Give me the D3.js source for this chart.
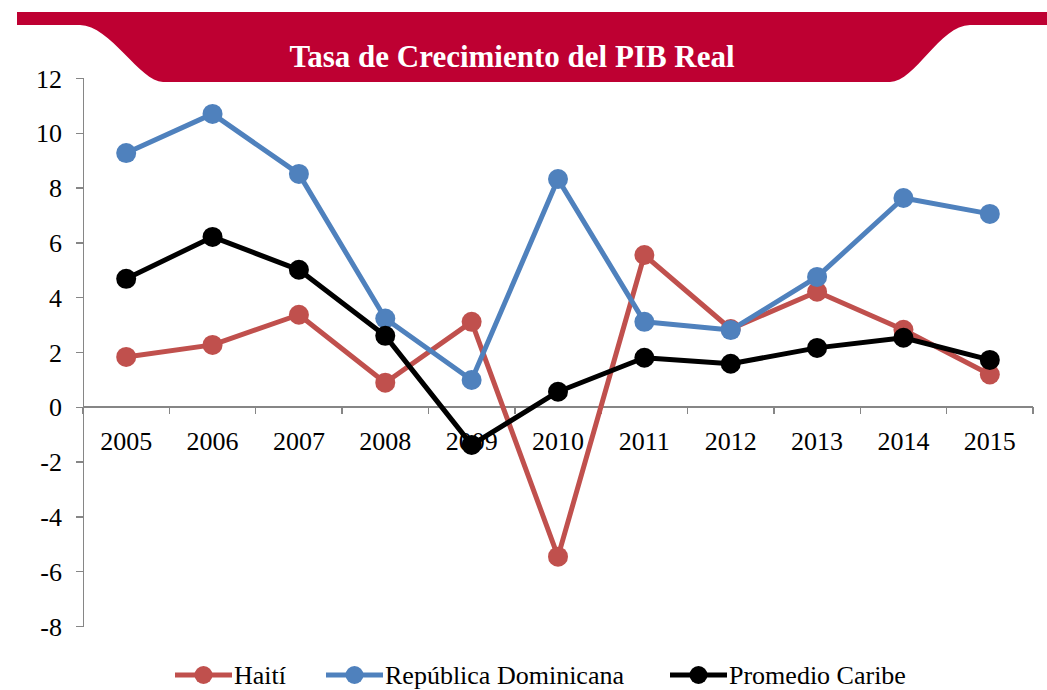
<!DOCTYPE html>
<html>
<head>
<meta charset="utf-8">
<script src="https://d3js.org/d3.v7.min.js"></script>
<style>
    body { margin: 0; background: #ffffff; }
    svg text { font-family: "Liberation Serif", "Times New Roman", serif; fill: #000000; }
    .axis path, .axis line { stroke: #868686; stroke-width: 1.5; shape-rendering: crispEdges; }
    .axis text { font-size: 26px; font-family: "Liberation Serif", "Times New Roman", serif; }
    .series-line { fill: none; stroke-width: 5; stroke-linejoin: round; }
</style>
</head>
<body>
<script>
const WIDTH = 1047;
const HEIGHT = 690;
const FONT = "'Liberation Serif', 'Times New Roman', serif";

const YEARS = ["2005", "2006", "2007", "2008", "2009", "2010", "2011", "2012", "2013", "2014", "2015"];
const HAITI = [1.82, 2.26, 3.36, 0.88, 3.1, -5.47, 5.54, 2.84, 4.2, 2.81, 1.18];
const REP_DOM = [9.26, 10.69, 8.5, 3.22, 0.98, 8.31, 3.1, 2.8, 4.74, 7.62, 7.04];
const CARIBE = [4.67, 6.2, 5.0, 2.59, -1.39, 0.55, 1.79, 1.57, 2.15, 2.52, 1.71];
const Y_TICKS = [-8, -6, -4, -2, 0, 2, 4, 6, 8, 10, 12];
const SERIES_NAMES = ["Haití", "República Dominicana", "Promedio Caribe"];
const SERIES_COLORS = ["#C0504D", "#4F81BD", "#000000"];
const TITLE = "Tasa de Crecimiento del PIB Real";

const series = [HAITI, REP_DOM, CARIBE].map(function(values, i) {
    return {name: SERIES_NAMES[i], color: SERIES_COLORS[i], values: values};
});

const svg = d3.select("body").append("svg")
    .attr("width", WIDTH)
    .attr("height", HEIGHT)
    .style("font-family", FONT);

// banner
const banner = d3.path();
banner.moveTo(17, 12);
banner.lineTo(WIDTH, 12);
banner.lineTo(WIDTH, 25);
banner.lineTo(970, 25);
banner.bezierCurveTo(940, 25, 915, 82, 890, 82);
banner.lineTo(163, 82);
banner.bezierCurveTo(140, 82, 110, 25, 80, 25);
banner.lineTo(17, 25);
banner.closePath();
svg.append("path")
    .attr("d", banner.toString())
    .attr("fill", "#BE0032");

svg.append("text")
    .attr("x", 512)
    .attr("y", 67)
    .attr("text-anchor", "middle")
    .style("font-family", FONT)
    .style("font-size", "31px")
    .style("font-weight", "bold")
    .style("fill", "#ffffff")
    .text(TITLE);

const x = d3.scaleBand()
    .domain(YEARS)
    .range([83, 1033])
    .padding(0);

const y = d3.scaleLinear()
    .domain([-8, 12])
    .range([626, 78]);

// y axis
const yAxisGroup = svg.append("g")
    .attr("class", "axis")
    .attr("transform", "translate(" + x.range()[0] + ",0)")
    .call(d3.axisLeft(y)
        .tickValues(Y_TICKS)
        .tickFormat(function(d) { return String(d); })
        .tickSize(7)
        .tickSizeOuter(7)
        .tickPadding(14));
yAxisGroup.attr("font-family", null).attr("font-size", null);
yAxisGroup.selectAll("text").attr("dy", "0.35em").style("font-family", FONT);

// x axis at zero, ticks on band boundaries
const xAxisGroup = svg.append("g").attr("class", "axis");
xAxisGroup.append("line")
    .attr("x1", x.range()[0])
    .attr("x2", x.range()[1])
    .attr("y1", y(0))
    .attr("y2", y(0));
const boundaries = YEARS.map(function(d) { return x(d); }).concat([x.range()[1]]);
xAxisGroup.selectAll(".xtick")
    .data(boundaries)
    .enter()
    .append("line")
    .attr("class", "xtick")
    .attr("x1", function(d) { return d; })
    .attr("x2", function(d) { return d; })
    .attr("y1", y(0))
    .attr("y2", y(0) + 7);
xAxisGroup.selectAll(".xlabel")
    .data(YEARS)
    .enter()
    .append("text")
    .attr("class", "xlabel")
    .attr("x", function(d) { return x(d) + x.bandwidth() / 2; })
    .attr("y", y(0) + 43)
    .attr("text-anchor", "middle")
    .style("font-family", FONT)
    .text(function(d) { return d; });

// series
const line = d3.line()
    .x(function(d, i) { return x(YEARS[i]) + x.bandwidth() / 2; })
    .y(function(d) { return y(d); });

series.forEach(function(s) {
    const g = svg.append("g");
    g.append("path")
        .datum(s.values)
        .attr("class", "series-line")
        .attr("stroke", s.color)
        .attr("d", line);
    g.selectAll("circle")
        .data(s.values)
        .enter()
        .append("circle")
        .attr("cx", function(d, i) { return x(YEARS[i]) + x.bandwidth() / 2; })
        .attr("cy", function(d) { return y(d); })
        .attr("r", 10)
        .attr("fill", s.color);
});

// legend
const LEGEND_X = [175, 326, 670];
const legendY = 675;
series.forEach(function(s, i) {
    const g = svg.append("g").attr("transform", "translate(" + LEGEND_X[i] + "," + legendY + ")");
    g.append("line")
        .attr("x1", 0).attr("x2", 57)
        .attr("y1", 0).attr("y2", 0)
        .attr("stroke", s.color)
        .attr("stroke-width", 5);
    g.append("circle")
        .attr("cx", 28.5).attr("cy", 0)
        .attr("r", 9)
        .attr("fill", s.color);
    g.append("text")
        .attr("x", 59)
        .attr("y", 9)
        .style("font-family", FONT)
        .style("font-size", "26px")
        .text(s.name);
});
</script>
</body>
</html>
